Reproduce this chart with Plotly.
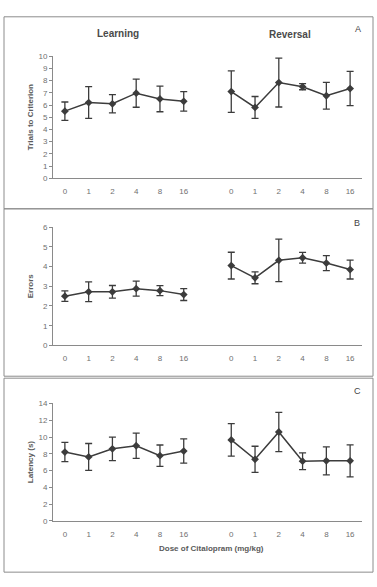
import plotly.graph_objects as go

W, H = 377, 587

doses = ["0", "1", "2", "4", "8", "16"]

trials_learn = [5.5, 6.2, 6.1, 6.97, 6.5, 6.3]
trials_learn_err = [0.75, 1.3, 0.75, 1.15, 1.05, 0.8]
trials_rev = [7.1, 5.8, 7.84, 7.5, 6.76, 7.35]
trials_rev_err = [1.7, 0.9, 2.0, 0.25, 1.1, 1.4]

errors_learn = [2.5, 2.72, 2.72, 2.88, 2.78, 2.58]
errors_learn_err = [0.27, 0.5, 0.32, 0.38, 0.25, 0.3]
errors_rev = [4.05, 3.43, 4.32, 4.45, 4.18, 3.85]
errors_rev_err = [0.68, 0.3, 1.08, 0.27, 0.38, 0.48]

lat_learn = [8.21, 7.63, 8.6, 8.96, 7.78, 8.33]
lat_learn_err = [1.15, 1.6, 1.4, 1.5, 1.27, 1.45]
lat_rev = [9.66, 7.35, 10.6, 7.12, 7.16, 7.16]
lat_rev_err = [1.94, 1.55, 2.33, 1.0, 1.67, 1.9]

panels = [
    ("A", "Trials to Criterion", trials_learn, trials_learn_err, trials_rev, trials_rev_err, [0, 10], 1, (53, 177)),
    ("B", "Errors", errors_learn, errors_learn_err, errors_rev, errors_rev_err, [0, 6], 1, (226.7, 346.7)),
    ("C", "Latency (s)", lat_learn, lat_learn_err, lat_rev, lat_rev_err, [0, 14], 2, (405.7, 525)),
]

learn_x = list(range(len(doses)))
rev_x = [i + len(doses) + 1 for i in range(len(doses))]
tickvals = learn_x + rev_x
ticktext = doses + doses

LINE = "#3c3c3c"
AXIS = "#8a8a8a"
TXT = "#5a5a5a"
TICK = "#707070"
FONT = "Arial, Liberation Sans"

fig = go.Figure()
annotations = []
shapes = []

x_dom = [53 / W, 362 / W]


def ann(text, xpx, ypx, size, color, angle=0):
    return dict(text=text, x=xpx / W, y=1 - ypx / H, xref="paper", yref="paper",
                xanchor="center", yanchor="middle", showarrow=False, textangle=angle,
                font=dict(size=size, color=color, family=FONT))


for k, (lab, ytitle, ly, le, ry, re, yr, dt, (ytop, ybot)) in enumerate(panels):
    n = k + 1
    xa = "x" if n == 1 else f"x{n}"
    ya = "y" if n == 1 else f"y{n}"
    for xs, ys, es in ((learn_x, ly, le), (rev_x, ry, re)):
        fig.add_trace(go.Scatter(
            x=xs, y=ys, xaxis=xa, yaxis=ya, mode="lines+markers",
            line=dict(color=LINE, width=1.5),
            marker=dict(symbol="diamond", size=6, color=LINE),
            error_y=dict(type="data", array=es, visible=True, color=LINE, thickness=1.3, width=3.5),
            showlegend=False, cliponaxis=False,
        ))
    ydom = [1 - ybot / H, 1 - ytop / H]
    fig.update_layout(**{
        ("xaxis" if n == 1 else f"xaxis{n}"): dict(
            domain=x_dom, anchor=ya, range=[-0.5, 12.5],
            tickvals=tickvals, ticktext=ticktext, showgrid=False, zeroline=False,
            showline=True, linecolor=AXIS, linewidth=1, ticks="",
            tickfont=dict(size=8, color=TICK, family=FONT),
            ticklabelstandoff=5,
        ),
        ("yaxis" if n == 1 else f"yaxis{n}"): dict(
            domain=ydom, anchor=xa, range=yr, dtick=dt, showgrid=False, zeroline=False,
            showline=True, linecolor=AXIS, linewidth=1, ticks="outside", ticklen=3,
            tickcolor=AXIS, tickfont=dict(size=8, color=TICK, family=FONT),
        ),
    })
    annotations.append(ann(f"<b>{ytitle}</b>", 30, (ytop + ybot) / 2, 8, TXT, -90))

annotations += [
    ann("<b>Learning</b>", 118, 30, 10, "#4a4a4a"),
    ann("<b>Reversal</b>", 290, 31, 10, "#4a4a4a"),
    ann("A", 358, 25, 9, "#444444"),
    ann("B", 357, 222, 9, "#444444"),
    ann("C", 357, 393, 9, "#444444"),
    ann("<b>Dose of Citalopram (mg/kg)</b>", 211, 553, 8, TXT),
]

for (t, b) in [(13, 208), (208, 378), (380, 577)]:
    shapes.append(dict(type="rect", xref="paper", yref="paper",
                       x0=4 / W, x1=373 / W, y0=1 - b / H, y1=1 - t / H,
                       line=dict(color="#8c8c8c", width=1)))

fig.update_layout(
    width=W, height=H, margin=dict(l=0, r=0, t=0, b=0),
    paper_bgcolor="white", plot_bgcolor="white",
    annotations=annotations, shapes=shapes,
)

fig.write_html("out.html")
